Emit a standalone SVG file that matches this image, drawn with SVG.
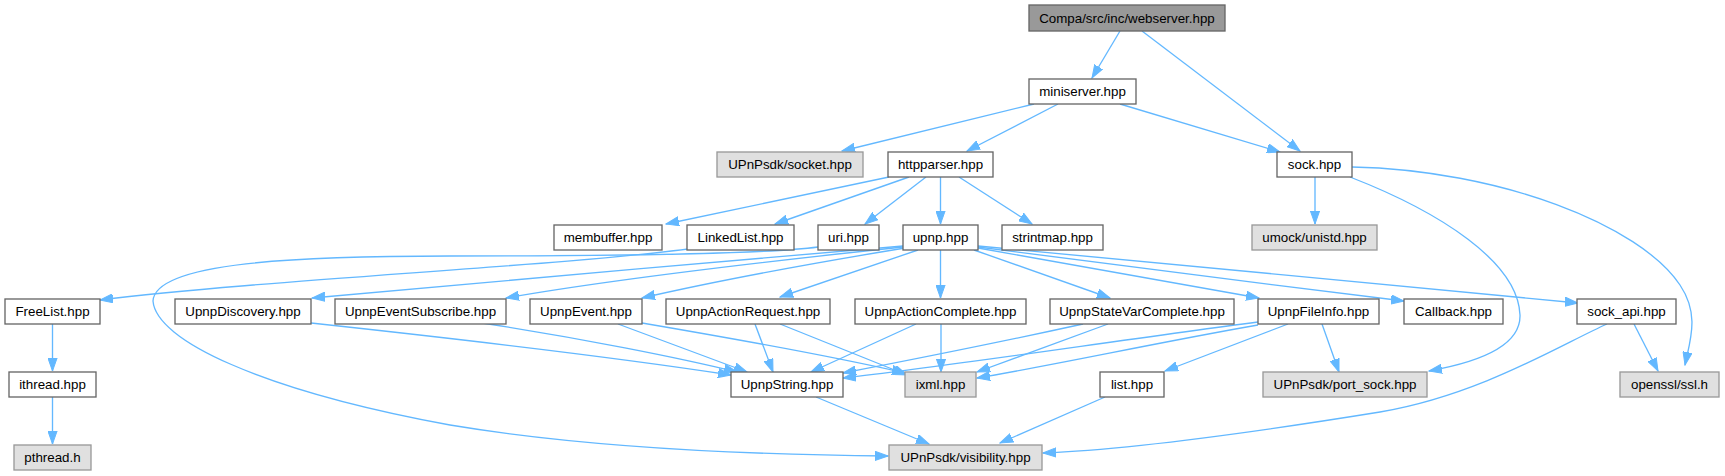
<svg xmlns="http://www.w3.org/2000/svg" width="1725" height="476" viewBox="0 0 1725 476">
<style>
.bg{fill:#ffffff}
.n rect{fill:#ffffff;stroke:#666666;stroke-width:1.33}
.g rect{fill:#e0e0e0;stroke:#999999;stroke-width:1.33}
.r rect{fill:#999999;stroke:#666666;stroke-width:1.33}
text{font-family:"Liberation Sans",Arial,sans-serif;font-size:13.33px;fill:#000000;text-anchor:middle}
.e path{fill:none;stroke:#63b8ff;stroke-width:1.33;marker-end:url(#ah)}
</style>
<defs>
<marker id="ah" markerUnits="userSpaceOnUse" markerWidth="14" markerHeight="10" viewBox="0 0 14 10" refX="13" refY="5" orient="auto">
<path d="M0,0.4 L13,5 L0,9.6 z" fill="#63b8ff" stroke="#63b8ff" stroke-width="1"/>
</marker>
</defs>
<rect class="bg" x="0" y="0" width="1725" height="476"/>
<g id="edges" class="e">
<path d="M1120,31 L1092,78"/>
<path d="M1142,31 L1300,151"/>
<path d="M1034,104 L842,151"/>
<path d="M1058,104 L967,151"/>
<path d="M1120,104 L1280,152"/>
<path d="M889,177 L666,224"/>
<path d="M909,177 L775,224"/>
<path d="M926,177 L865,224"/>
<path d="M940.5,177 L940.5,224"/>
<path d="M959,177 L1032,224"/>
<path d="M1315,177 L1315,224"/>
<path d="M1350,177 C1440,212 1518,262 1520,315 C1521,345 1480,362 1429,371"/>
<path d="M1352,167 C1500,170 1640,225 1680,285 C1700,315 1690,340 1685,365"/>
<path d="M688,249 C560,266 260,280 100,300"/>
<path d="M818,247 C760,255 600,256 450,256 C300,256 155,262 153,301 C156,340 260,390 450,425 C600,450 780,455 888,456"/>
<path d="M903,246 C720,262 480,282 312,298"/>
<path d="M903,247 C780,260 620,278 506,298"/>
<path d="M905,248 C820,262 720,280 642,298"/>
<path d="M918,250 L780,297"/>
<path d="M940.5,250 L940.5,298"/>
<path d="M974,250 L1110,298"/>
<path d="M978,248 L1259,298"/>
<path d="M978,247 C1100,262 1260,284 1404,301"/>
<path d="M978,246 C1150,262 1400,286 1578,303"/>
<path d="M52.5,324 L52.5,371"/>
<path d="M52.5,397 L52.5,444"/>
<path d="M311,323 C450,338 620,358 731,375"/>
<path d="M482,323 C580,338 680,358 737,372"/>
<path d="M618,324 L747,372"/>
<path d="M642,323 C730,338 840,358 905,373"/>
<path d="M755,324 L773,372"/>
<path d="M780,324 L907,375"/>
<path d="M916,324 L811,372"/>
<path d="M941,324 L941,372"/>
<path d="M1083,324 C1010,340 900,362 843,373"/>
<path d="M1108,324 L977,372"/>
<path d="M1258,322 C1120,340 950,366 843,378"/>
<path d="M1258,325 C1160,342 1050,366 977,378"/>
<path d="M1288,324 L1165,371"/>
<path d="M1322,324 L1339,372"/>
<path d="M1634,324 L1658,371"/>
<path d="M1607,324 C1560,345 1480,395 1380,412 C1250,433 1120,450 1043,453"/>
<path d="M816,397 L929,444"/>
<path d="M1105,397 L1000,443"/>
</g>
<g id="n_webserver" class="r"><rect x="1029" y="5" width="196" height="26"/><text x="1127" y="22.7">Compa/src/inc/webserver.hpp</text></g>
<g id="n_miniserver" class="n"><rect x="1029" y="79" width="107" height="25"/><text x="1082.5" y="96.2">miniserver.hpp</text></g>
<g id="n_socket" class="g"><rect x="717" y="152" width="146" height="25"/><text x="790" y="169.2">UPnPsdk/socket.hpp</text></g>
<g id="n_httpparser" class="n"><rect x="888" y="152" width="105" height="25"/><text x="940.5" y="169.2">httpparser.hpp</text></g>
<g id="n_sock" class="n"><rect x="1277" y="152" width="75" height="25"/><text x="1314.5" y="169.2">sock.hpp</text></g>
<g id="n_membuffer" class="n"><rect x="554" y="225" width="108" height="25"/><text x="608" y="242.2">membuffer.hpp</text></g>
<g id="n_linkedlist" class="n"><rect x="687" y="225" width="107" height="25"/><text x="740.5" y="242.2">LinkedList.hpp</text></g>
<g id="n_uri" class="n"><rect x="818" y="225" width="61" height="25"/><text x="848.5" y="242.2">uri.hpp</text></g>
<g id="n_upnp" class="n"><rect x="903" y="225" width="75" height="25"/><text x="940.5" y="242.2">upnp.hpp</text></g>
<g id="n_strintmap" class="n"><rect x="1002" y="225" width="101" height="25"/><text x="1052.5" y="242.2">strintmap.hpp</text></g>
<g id="n_unistd" class="g"><rect x="1252" y="225" width="125" height="25"/><text x="1314.5" y="242.2">umock/unistd.hpp</text></g>
<g id="n_freelist" class="n"><rect x="5" y="299" width="95" height="25"/><text x="52.5" y="316.2">FreeList.hpp</text></g>
<g id="n_discovery" class="n"><rect x="175" y="299" width="136" height="25"/><text x="243" y="316.2">UpnpDiscovery.hpp</text></g>
<g id="n_eventsub" class="n"><rect x="335" y="299" width="171" height="25"/><text x="420.5" y="316.2">UpnpEventSubscribe.hpp</text></g>
<g id="n_event" class="n"><rect x="530" y="299" width="112" height="25"/><text x="586" y="316.2">UpnpEvent.hpp</text></g>
<g id="n_actreq" class="n"><rect x="666" y="299" width="164" height="25"/><text x="748" y="316.2">UpnpActionRequest.hpp</text></g>
<g id="n_actcomp" class="n"><rect x="855" y="299" width="171" height="25"/><text x="940.5" y="316.2">UpnpActionComplete.hpp</text></g>
<g id="n_statevar" class="n"><rect x="1050" y="299" width="184" height="25"/><text x="1142" y="316.2">UpnpStateVarComplete.hpp</text></g>
<g id="n_fileinfo" class="n"><rect x="1258" y="299" width="121" height="25"/><text x="1318.5" y="316.2">UpnpFileInfo.hpp</text></g>
<g id="n_callback" class="n"><rect x="1404" y="299" width="99" height="25"/><text x="1453.5" y="316.2">Callback.hpp</text></g>
<g id="n_sockapi" class="n"><rect x="1577" y="299" width="99" height="25"/><text x="1626.5" y="316.2">sock_api.hpp</text></g>
<g id="n_ithread" class="n"><rect x="9" y="372" width="87" height="25"/><text x="52.5" y="389.2">ithread.hpp</text></g>
<g id="n_upnpstring" class="n"><rect x="731" y="372" width="112" height="25"/><text x="787" y="389.2">UpnpString.hpp</text></g>
<g id="n_ixml" class="g"><rect x="905" y="372" width="71" height="25"/><text x="940.5" y="389.2">ixml.hpp</text></g>
<g id="n_list" class="n"><rect x="1100" y="372" width="64" height="25"/><text x="1132" y="389.2">list.hpp</text></g>
<g id="n_portsock" class="g"><rect x="1263" y="372" width="164" height="25"/><text x="1345" y="389.2">UPnPsdk/port_sock.hpp</text></g>
<g id="n_openssl" class="g"><rect x="1620" y="372" width="99" height="25"/><text x="1669.5" y="389.2">openssl/ssl.h</text></g>
<g id="n_pthread" class="g"><rect x="14" y="445" width="77" height="25"/><text x="52.5" y="462.2">pthread.h</text></g>
<g id="n_visibility" class="g"><rect x="889" y="445" width="153" height="25"/><text x="965.5" y="462.2">UPnPsdk/visibility.hpp</text></g>
</svg>
